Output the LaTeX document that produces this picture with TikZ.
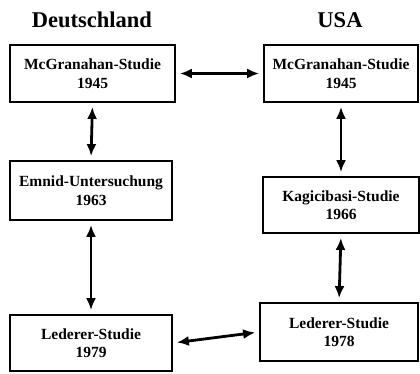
\documentclass[tikz,border=0pt]{standalone}
\usepackage{fontspec}
\setmainfont{Liberation Serif}
\usetikzlibrary{arrows.meta}
\begin{document}
\begin{tikzpicture}[x=1pt,y=-1pt,
  box/.style={draw, line width=1.8pt, align=center, inner sep=0pt,
    font=\bfseries\fontsize{15.5}{18.5}\selectfont},
  title/.style={font=\bfseries\fontsize{22.5}{26}\selectfont, inner sep=0pt},
  link/.style={line width=2.8pt, {Latex[length=12pt,width=10pt]}-{Latex[length=12pt,width=10pt]}, shorten >=4pt, shorten <=4pt}]
\useasboundingbox (0,0) rectangle (420,373);
\node[title] (tde) at (92,20) {Deutschland};
\node[title] (tus) at (340,20) {USA};
\node[box, minimum width=165pt, minimum height=57pt] (l1) at (92.5,73.5) {McGranahan-Studie\\1945};
\node[box, minimum width=162pt, minimum height=59pt] (l2) at (91,190.5) {Emnid-Untersuchung\\1963};
\node[box, minimum width=162pt, minimum height=56pt] (l3) at (91,343) {Lederer-Studie\\1979};
\node[box, minimum width=154pt, minimum height=57pt] (r1) at (341,73.5) {McGranahan-Studie\\1945};
\node[box, minimum width=156pt, minimum height=56pt] (r2) at (341,205) {Kagicibasi-Studie\\1966};
\node[box, minimum width=158pt, minimum height=58pt] (r3) at (339,332) {Lederer-Studie\\1978};
\draw[link] (l1.east) -- (r1.west);
\draw[link] (l1.south) -- (l2.north);
\draw[link] (l2.south) -- (l3.north);
\draw[link] (r1.south) -- (r2.north);
\draw[link] (r2.south) -- (r3.north);
\draw[link] (l3.east) -- (r3.west);
\end{tikzpicture}
\end{document}
